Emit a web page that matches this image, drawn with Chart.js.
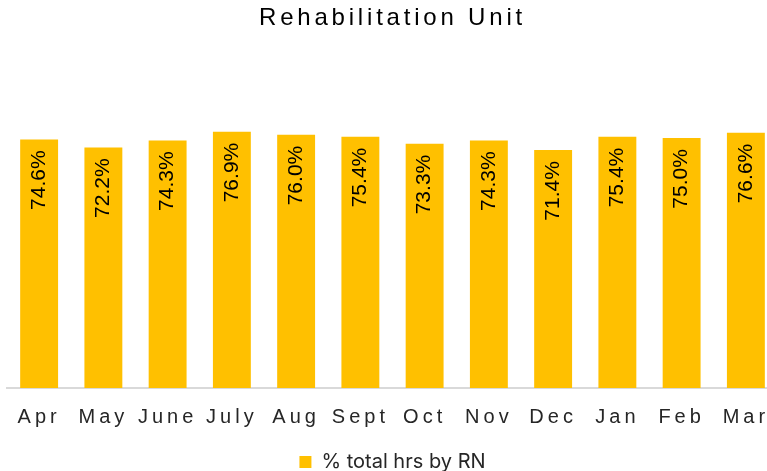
<!DOCTYPE html>
<html lang="en">
<head>
    <meta charset="UTF-8">
    <title>Rehabilitation Unit</title>
    <script src="https://cdn.jsdelivr.net/npm/chart.js"></script>
    <style>
        html, body {
            margin: 0;
            padding: 0;
            background: #ffffff;
            overflow: hidden;
        }
        .chart-box {
            width: 785px;
            height: 471px;
        }
    </style>
</head>
<body>
<div class="chart-box">
    <canvas id="rnChart"></canvas>
</div>

<script>
    const months = ['Apr', 'May', 'June', 'July', 'Aug', 'Sept', 'Oct', 'Nov', 'Dec', 'Jan', 'Feb', 'Mar'];
    const rnShare = [74.6, 72.2, 74.3, 76.9, 76.0, 75.4, 73.3, 74.3, 71.4, 75.4, 75.0, 76.6];
    const seriesName = '% total hrs by RN';
    const barColor = '#FFC000';

    // run a box's draw with its own letter spacing
    const withSpacing = (box, space) => {
        if (!box || box._spaced) return;
        const draw = box.draw;
        box.draw = function () {
            const old = this.ctx.letterSpacing;
            this.ctx.letterSpacing = space;
            draw.apply(this, arguments);
            this.ctx.letterSpacing = old;
        };
        box._spaced = true;
    };

    // spaced-out lettering for title and month labels, plain for legend and values
    const spacing = {
        id: 'spacing',
        beforeDraw(chart) {
            withSpacing(chart.legend, '0px');
            withSpacing(chart.titleBlock, '3.8px');
            chart.ctx.letterSpacing = '4px';
        },
        beforeDatasetsDraw(chart) {
            chart.ctx.letterSpacing = '0px';
        }
    };

    const valueLabels = {
        id: 'valueLabels',
        afterDatasetsDraw(chart) {
            const ctx = chart.ctx;
            const meta = chart.getDatasetMeta(0);
            ctx.save();
            ctx.letterSpacing = '0px';
            ctx.font = '21px "Liberation Sans", Arial, sans-serif';
            ctx.fillStyle = '#000000';
            ctx.textAlign = 'right';
            ctx.textBaseline = 'middle';
            meta.data.forEach((bar, i) => {
                ctx.save();
                ctx.translate(bar.x, bar.y + 11);
                ctx.rotate(-Math.PI / 2);
                ctx.fillText(rnShare[i].toFixed(1) + '%', 0, 0);
                ctx.restore();
            });
            ctx.restore();
        }
    };

    new Chart(document.getElementById('rnChart'), {
        type: 'bar',
        data: {
            labels: months,
            datasets: [{
                label: seriesName,
                data: rnShare,
                backgroundColor: barColor,
                borderWidth: 0,
                barPercentage: 0.59,
                categoryPercentage: 1
            }]
        },
        options: {
            responsive: true,
            maintainAspectRatio: false,
            animation: false,
            layout: {
                padding: { left: 7, right: 7, top: 0, bottom: -11 }
            },
            plugins: {
                title: {
                    display: true,
                    text: 'Rehabilitation Unit',
                    color: '#000000',
                    font: { family: '"Liberation Sans", Arial, sans-serif', size: 24, weight: 'normal' },
                    padding: { top: 4, bottom: 22 }
                },
                legend: {
                    position: 'bottom',
                    labels: {
                        color: '#262626',
                        font: { family: 'Inter, sans-serif', size: 20 },
                        boxWidth: 12,
                        boxHeight: 12,
                        padding: 6
                    }
                },
                tooltip: { enabled: false }
            },
            scales: {
                x: {
                    grid: { display: false, drawTicks: false },
                    border: { display: true, color: '#d9d9d9', width: 2 },
                    ticks: {
                        color: '#262626',
                        font: { family: '"Liberation Sans", Arial, sans-serif', size: 20 },
                        padding: 17,
                        autoSkip: false,
                        maxRotation: 0,
                        minRotation: 0
                    }
                },
                y: {
                    display: false,
                    min: 0,
                    max: 100
                }
            }
        },
        plugins: [spacing, valueLabels]
    });
</script>
</body>
</html>
